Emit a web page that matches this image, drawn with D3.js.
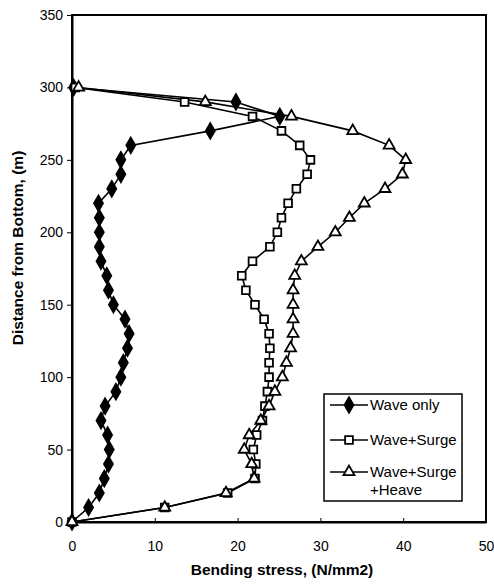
<!DOCTYPE html>
<html><head><meta charset="utf-8">
<script src="https://cdn.jsdelivr.net/npm/d3@7"></script>
<style>body{margin:0;background:#fff}svg{display:block}text{font-family:"Liberation Sans",Arial,sans-serif}</style>
</head><body>
<script>
const heights = [0,10,20,30,40,50,60,70,80,90,100,110,120,130,140,150,160,170,180,190,200,210,220,230,240,250,260,270,280,290,300];
const waveOnly = [0,2.0,3.3,3.9,4.4,4.5,4.3,3.5,4.0,5.3,5.9,6.2,6.7,6.9,6.4,5.0,4.4,4.2,3.5,3.3,3.3,3.3,3.2,4.8,5.9,5.9,7.1,16.7,25.1,19.8,0.2];
const waveSurge = [0,11.2,18.8,22.1,22.2,21.9,22.3,23.0,23.3,23.6,23.8,23.8,23.9,23.8,23.2,22.1,21.0,20.5,21.8,23.9,24.8,25.3,26.1,27.1,28.4,28.8,27.5,25.3,21.8,13.6,0.4];
const waveSurgeHeave = [0,11.2,18.6,22.0,21.7,20.8,21.4,22.8,23.8,24.5,25.4,25.9,26.4,26.7,26.7,26.7,26.7,26.9,27.7,29.7,31.8,33.5,35.3,37.8,39.9,40.3,38.3,33.9,26.5,16.1,0.8];
const xTicks = [0,10,20,30,40,50];
const yTicks = [0,50,100,150,200,250,300,350];
const seriesNames = ["Wave only","Wave+Surge","Wave+Surge+Heave"];

const W=494,H=588, m={l:72,r:8,t:15,b:66};
const svg=d3.select("body").append("svg").attr("width",W).attr("height",H);
const x=d3.scaleLinear().domain([0,50]).range([m.l,W-m.r]);
const y=d3.scaleLinear().domain([0,350]).range([H-m.b,m.t]);

// frame
svg.append("rect").attr("x",m.l).attr("y",m.t).attr("width",W-m.r-m.l).attr("height",H-m.b-m.t)
  .attr("fill","none").attr("stroke","#000").attr("stroke-width",2);

const xa=svg.append("g").attr("transform",`translate(0,${H-m.b})`)
  .call(d3.axisBottom(x).tickValues(xTicks).tickSizeInner(-4).tickSizeOuter(0).tickPadding(19));
const ya=svg.append("g").attr("transform",`translate(${m.l},0)`)
  .call(d3.axisLeft(y).tickValues(yTicks).tickSizeInner(5).tickSizeOuter(0).tickPadding(4));
[xa,ya].forEach(g=>{g.select(".domain").attr("stroke-width",2);g.selectAll(".tick line").attr("stroke-width",1);
  g.selectAll("text").attr("font-size",14).attr("font-family",'"Liberation Sans",Arial,sans-serif').attr("fill","#000");});

svg.append("text").attr("x",282).attr("y",575).attr("text-anchor","middle").attr("font-size",15.5).attr("font-weight","bold").text("Bending stress, (N/mm2)");
svg.append("text").attr("transform",`translate(23,248) rotate(-90)`).attr("text-anchor","middle").attr("font-size",15.5).attr("font-weight","bold").text("Distance from Bottom, (m)");

const line=d3.line().x(d=>x(d[0])).y(d=>y(d[1]));
const data=[waveOnly,waveSurge,waveSurgeHeave].map(v=>v.map((d,i)=>[d,heights[i]]));
const symbols=[d3.symbolDiamond,d3.symbolSquare,d3.symbolTriangle];
const symSize=[70,60,52];
const fills=["#000","#fff","#fff"];

data.forEach((s,k)=>{
  svg.append("path").datum(s).attr("d",line).attr("fill","none").attr("stroke","#000").attr("stroke-width",1.6);
});
data.forEach((s,k)=>{
  svg.append("g").selectAll("path").data(s).join("path")
    .attr("transform",d=>`translate(${x(d[0])},${y(d[1])})`)
    .attr("d",d3.symbol().type(symbols[k]).size(symSize[k]))
    .attr("fill",fills[k]).attr("stroke","#000").attr("stroke-width",1.8);
});

// legend
const lg=svg.append("g");
lg.append("rect").attr("x",324).attr("y",394).attr("width",138).attr("height",107).attr("fill","#fff").attr("stroke","#000").attr("stroke-width",1.5);
const rows=[405,440,472];
rows.forEach((ry,k)=>{
  lg.append("line").attr("x1",330).attr("x2",368).attr("y1",ry).attr("y2",ry).attr("stroke","#000").attr("stroke-width",1.6);
  lg.append("path").attr("transform",`translate(349,${ry})`).attr("d",d3.symbol().type(symbols[k]).size(symSize[k]))
    .attr("fill",fills[k]).attr("stroke","#000").attr("stroke-width",1.8);
});
lg.append("text").attr("x",370).attr("y",410).attr("font-size",15).text("Wave only");
lg.append("text").attr("x",370).attr("y",445).attr("font-size",15).text("Wave+Surge");
lg.append("text").attr("x",370).attr("y",477).attr("font-size",15).text("Wave+Surge");
lg.append("text").attr("x",370).attr("y",495).attr("font-size",15).text("+Heave");
</script>
</body></html>
